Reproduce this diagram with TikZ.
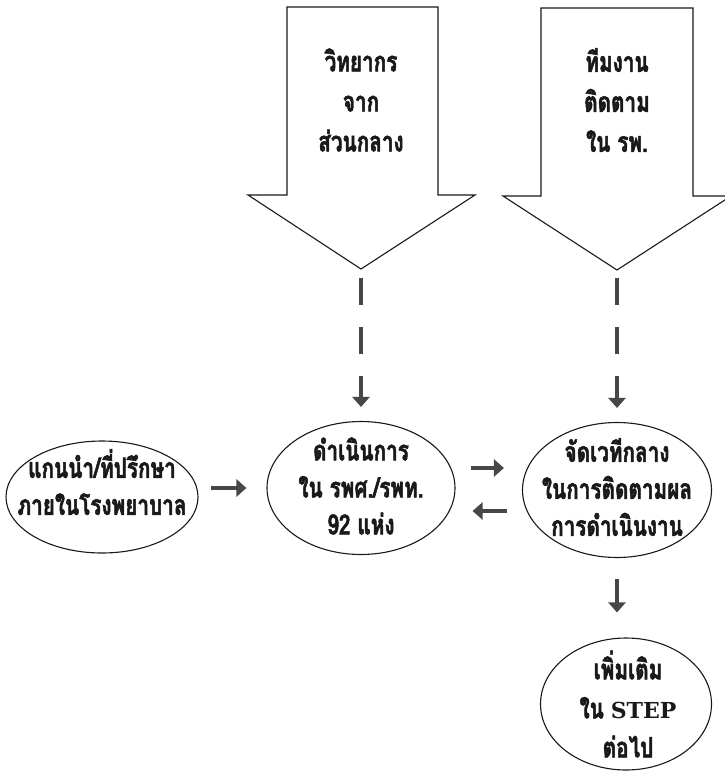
\documentclass[tikz,border=0pt]{standalone}
\usepackage{fontspec}
\newfontfamily\thaifont[Script=Thai,FakeStretch=0.74,FakeBold=1.8]{Loma}
\newfontfamily\stepfont{DejaVu Serif}
\usetikzlibrary{shapes.geometric,arrows.meta}
\begin{document}
\begin{tikzpicture}[x=1pt,y=-1pt,
  oval/.style={ellipse,draw=black!90,line width=1.1pt,inner sep=0pt},
  lbl/.style={align=center,inner sep=0pt,text=black!90,font=\thaifont\bfseries\fontsize{28}{37}\selectfont},
  lblwide/.style={lbl,font=\thaifont\bfseries\fontsize{28}{40}\selectfont},
  garrow/.style={draw=black!72,line width=4pt,-{Triangle[width=17pt,length=10pt]}},
  dashconn/.style={garrow,dash pattern=on 27pt off 22pt},
  blockarrow/.style={draw=black!90,line width=1.1pt,fill=white,line join=miter}]
\useasboundingbox (0,0) rectangle (724,772);
\fill[white] (0,0) rectangle (724,772);

% block arrows
\draw[blockarrow] (287,7) -- (438,7) -- (438,195) -- (475,195) -- (361,269) -- (248,195) -- (287,195) -- cycle;
\draw[blockarrow] (541,8) -- (693,8) -- (693,196) -- (731,196) -- (617,270) -- (503,196) -- (541,196) -- cycle;
\coordinate (tip1) at (361,269);
\coordinate (tip2) at (617,270);
\node[lblwide] (src1) at (361,100) {วิทยากร\\จาก\\ส่วนกลาง};
\node[lblwide] (src2) at (617,100) {ทีมงาน\\ติดตาม\\ใน รพ.};

% ellipses
\node[oval,minimum width=192pt,minimum height=112pt] (e1) at (102,497) {};
\node[oval,minimum width=188pt,minimum height=133pt] (e2) at (361,488) {};
\node[oval,minimum width=189pt,minimum height=135pt] (e3) at (617,490) {};
\node[oval,minimum width=171pt,minimum height=132pt] (e4) at (626,704) {};

\node[lbl] (t1) at (102,482) {แกนนำ/ที่ปรึกษา\\ภายในโรงพยาบาล};
\node[lbl] (t2) at (361,486) {ดำเนินการ\\ใน รพศ./รพท.\\92 แห่ง};
\node[lbl] (t3) at (617,487) {จัดเวทีกลาง\\ในการติดตามผล\\การดำเนินงาน};
\node[lbl,font=\thaifont\bfseries\fontsize{28}{39}\selectfont] (t4) at (628,704) {เพิ่มเติม\\ใน {\stepfont\bfseries\fontsize{22}{39}\selectfont STEP}\\ต่อไป};

% connectors
\draw[dashconn,shorten <=9pt,shorten >=14pt] (tip1) -- (e2.north);
\draw[dashconn,shorten <=8pt,shorten >=14pt] (tip2) -- (e3.north);
\draw[garrow,shorten <=12pt,shorten >=20pt] (e1.east |- e2.center) -- (e2.west);
\draw[garrow,shorten <=15pt,shorten >=18pt] ([yshift=20pt]e2.east) -- ([yshift=20pt]e2.east -| e3.west);
\draw[garrow,shorten <=15pt,shorten >=17pt] ([yshift=-21pt]e3.west) -- ([yshift=-21pt]e3.west -| e2.east);
\draw[garrow,shorten <=21pt,shorten >=25pt] (e3.south) -- (e3.south |- e4.north);
\end{tikzpicture}
\end{document}
